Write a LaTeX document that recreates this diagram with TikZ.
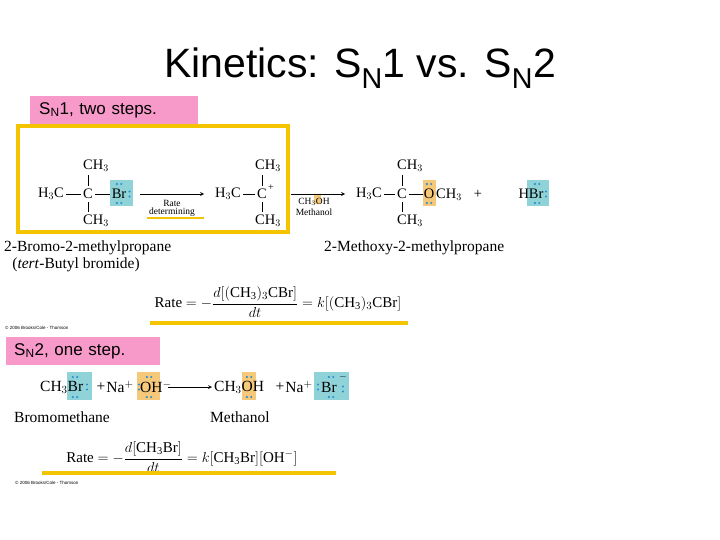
\documentclass[tikz,border=0pt]{standalone}
\usepackage{fontspec}
\setmainfont{Liberation Serif}
\newfontfamily\sansf{Liberation Sans}
\definecolor{pinkb}{HTML}{F799C9}
\definecolor{yel}{HTML}{F5C400}
\definecolor{cyanb}{HTML}{8FD3D9}
\definecolor{orab}{HTML}{F5C87A}
\definecolor{dotc}{HTML}{2A8FD0}
\tikzset{
 chem/.style={inner sep=0pt,font=\fontsize{14.5}{16}\selectfont},
 nmtext/.style={inner sep=0pt,font=\fontsize{15.5}{17}\selectfont},
 small/.style={inner sep=0pt,font=\fontsize{9.5}{10}\selectfont},
 lbl/.style={fill=pinkb,inner sep=0pt,anchor=north west,text=black,font=\sansf\fontsize{17}{19}\selectfont},
 bond/.style={line width=0.7pt},
 rarr/.style={line width=0.7pt,-stealth},
 ybar/.style={yel,line width=3.5pt},
 cbox/.style={fill=cyanb,draw=none},
 obox/.style={fill=orab,draw=none},
 dt/.style={fill=dotc,draw=none},
 copy/.style={inner sep=0pt,anchor=west,font=\sansf\fontsize{4.5}{5}\selectfont}
}
\newcommand{\lp}[2]{\fill[dt] (#1-2.2,#2) circle (1.2) (#1+2.2,#2) circle (1.2);}
\newcommand{\lpv}[2]{\fill[dt] (#1,#2-2.5) circle (1.2) (#1,#2+2.5) circle (1.2);}
\begin{document}
\begin{tikzpicture}[x=1pt,y=-1pt]
\useasboundingbox[fill=white] (0,0) rectangle (720,540);
% title
\node[inner sep=0pt,font=\sansf\fontsize{41}{45}\selectfont] (title) at (360,68) {Kinetics: S\textsubscript{N}1 vs. S\textsubscript{N}2};
% SN1 label
\node[lbl,minimum width=168,minimum height=28,text width=160] (l1) at (30,96) {\hspace{5pt}S\textsubscript{N}1, two steps.};
% highlight boxes
\fill[cbox] (110,180) rectangle (133,206);
\fill[obox] (423,180) rectangle (436,206);
\fill[cbox] (527,180) rectangle (549,206);
\fill[obox] (314,195) rectangle (321,204);
% structure 1
\node[chem] (a1) at (51,194) {H$_3$C};
\node[chem] (c1) at (88,194) {C};
\node[chem] (br1) at (119,194) {Br};
\node[chem] (t1) at (96,166) {CH$_3$};
\node[chem] (b1) at (96,221) {CH$_3$};
\draw[bond] ([xshift=2]a1.east) -- ([xshift=-2]c1.west);
\draw[bond] ([xshift=2]c1.east) -- ([xshift=-2]br1.west);
\draw[bond] (88,175) -- (88,186);
\draw[bond] (88,202) -- (88,212);
\lp{119}{184}\lp{119}{203}\lpv{129.5}{194}
% arrow 1
\coordinate (r1s) at (140,194); \coordinate (r1e) at (204,194);
\draw[rarr] (r1s) -- (r1e);
\node[small] (rate1) at (172,203) {Rate};
\node[small] (det) at (172,212) {determining};
\draw[ybar,line width=2.5pt] (147,218) -- (204,218);
% carbocation
\node[chem] (a2) at (228,194) {H$_3$C};
\node[chem] (c2) at (262,194) {C};
\node[inner sep=0pt,font=\fontsize{10}{11}\selectfont] (plus2) at (271,188) {+};
\node[chem] (t2) at (268,166) {CH$_3$};
\node[chem] (b2) at (268,221) {CH$_3$};
\draw[bond] ([xshift=2]a2.east) -- ([xshift=-2]c2.west);
\draw[bond] (262,175) -- (262,186);
\draw[bond] (262,202) -- (262,212);
% yellow frame
\draw[ybar] (18,126) rectangle (288,232);
% arrow 2
\coordinate (r2s) at (291,194); \coordinate (r2e) at (345,194);
\draw[rarr] (r2s) -- (r2e);
\node[small] (meoh) at (314,202) {CH$_3$OH};
\node[small] (meth) at (314,212) {Methanol};
% product
\node[chem] (a3) at (369,194) {H$_3$C};
\node[chem] (c3) at (402,194) {C};
\node[chem] (o3) at (429,194) {O};
\node[chem,anchor=west] (ch3b) at (436,195) {CH$_3$};
\node[chem] (t3) at (410,166) {CH$_3$};
\node[chem] (b3) at (410,221) {CH$_3$};
\draw[bond] ([xshift=2]a3.east) -- ([xshift=-2]c3.west);
\draw[bond] ([xshift=2]c3.east) -- ([xshift=-1]o3.west);
\draw[bond] (402,175) -- (402,186);
\draw[bond] (402,202) -- (402,212);
\lp{429}{184}\lp{429}{203}
\node[chem] (plus1) at (478,194) {+};
\node[chem] (hbr) at (531,194) {HBr};
\lp{537}{184}\lp{537}{203}\lpv{546}{194}
% names
\node[nmtext,anchor=west] (n1) at (4,248) {2-Bromo-2-methylpropane};
\node[nmtext] (n2) at (76,265) {(\textit{tert}-Butyl bromide)};
\node[nmtext,anchor=west] (n3) at (324,248) {2-Methoxy-2-methylpropane};
% rate 1
\node[chem,font=\fontsize{15}{17}\selectfont] (eq1) at (278,302) {Rate $=\displaystyle -\frac{d[(\mathrm{CH_3})_3\mathrm{CBr}]}{dt}=k[(\mathrm{CH_3})_3\mathrm{CBr}]$};
\draw[ybar] (150,323) -- (408,323);
\node[copy] (cp1) at (5,328) {\textcopyright\ 2006 Brooks/Cole - Thomson};
% SN2 label
\node[lbl,minimum width=154,minimum height=28,text width=148] (l2) at (6,337) {\hspace{5pt}S\textsubscript{N}2, one step.};
% SN2 boxes
\fill[cbox] (67,372) rectangle (92,400);
\fill[obox] (137,372) rectangle (160,400);
\fill[obox] (242,372) rectangle (256,400);
\fill[cbox] (314,372) rectangle (349,400);
\node[nmtext,anchor=west] (s1) at (40,387) {CH$_3$Br};
\lp{75}{377}\lp{75}{397}\lpv{87}{387}
\node[nmtext] (p2) at (101,387) {+};
\node[nmtext] (na1) at (120,387) {Na$^+$};
\node[nmtext,anchor=west] (oh) at (140,387) {OH$^-$};
\lpv{139}{387}\lp{149}{377}\lp{149}{397}
\coordinate (r3s) at (168,387); \coordinate (r3e) at (212,387);
\draw[rarr] (r3s) -- (r3e);
\node[nmtext,anchor=west] (ch3oh) at (214,387) {CH$_3$OH};
\lp{249}{377}\lp{249}{397}
\node[nmtext] (p3) at (280,387) {+};
\node[nmtext] (na2) at (299,387) {Na$^+$};
\node[nmtext,anchor=west] (br2) at (321,387) {Br};
\node[inner sep=0pt,font=\fontsize{10}{11}\selectfont] (mn) at (343,377) {$-$};
\lpv{318}{387}\lpv{343}{389}\lp{331}{377}\lp{331}{397}
\node[nmtext,anchor=west] (n4) at (14,417) {Bromomethane};
\node[nmtext,anchor=west] (n5) at (210,417) {Methanol};
\node[chem,font=\fontsize{15}{17}\selectfont] (eq2) at (182,457) {Rate $=\displaystyle -\frac{d[\mathrm{CH_3Br}]}{dt}=k[\mathrm{CH_3Br}][\mathrm{OH^-}]$};
\draw[ybar] (42,473) -- (336,473);
\node[copy] (cp2) at (15,483) {\textcopyright\ 2006 Brooks/Cole - Thomson};
\end{tikzpicture}
\end{document}
